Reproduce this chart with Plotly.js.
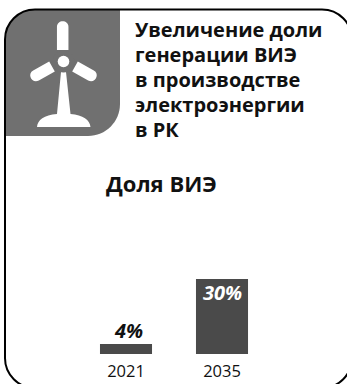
<!DOCTYPE html>
<html>
<head>
<meta charset="utf-8">
<script src="https://cdn.plot.ly/plotly-3.0.1.min.js"></script>
<style>html,body{margin:0;padding:0;background:#fff;overflow:hidden}</style>
</head>
<body>
<div id="chart" style="width:347px;height:384px"></div>
<script>
// Renewable share of generation
const years = ['2021', '2035'];
const shares = [4, 30];
const shareLabels = ['4%', '30%'];
const titleLines = ['Увеличение доли', 'генерации ВИЭ', 'в производстве', 'электроэнергии', 'в РК'];
const subtitle = 'Доля ВИЭ';

const W = 347, H = 384;
const FONT = '"Open Sans", "Noto Sans", sans-serif';
const PANEL = '#707070', BAR = '#4a4a4a', INK = '#111';

// Convert canvas pixels to paper fractions for the decorative shapes
const plot = {l: 78, r: 77, t: 254, b: 30};
const fx = x => (x - plot.l) / (W - plot.l - plot.r);
const fy = y => 1 - (y - plot.t) / (H - plot.t - plot.b);
const k = 0.5523;

// Builds a path string from [command, x1, y1, x2, y2, ...] items given in pixels
function path(items) {
  return items.map(([c, ...p]) =>
    c + p.map((v, i) => (i % 2 ? fy(v) : fx(v)).toFixed(5)).join(',')
  ).join(' ');
}
function roundedRect(x0, y0, x1, y1, rTL, rTR, rBR, rBL) {
  const c = r => r * (1 - k);
  return path([
    ['M', x0 + rTL, y0],
    ['L', x1 - rTR, y0],
    ['C', x1 - c(rTR), y0, x1, y0 + c(rTR), x1, y0 + rTR],
    ['L', x1, y1 - rBR],
    ['C', x1, y1 - c(rBR), x1 - c(rBR), y1, x1 - rBR, y1],
    ['L', x0 + rBL, y1],
    ['C', x0 + c(rBL), y1, x0, y1 - c(rBL), x0, y1 - rBL],
    ['L', x0, y0 + rTL],
    ['C', x0, y0 + c(rTL), x0 + c(rTL), y0, x0 + rTL, y0],
    ['Z']
  ]);
}
// A stadium-shaped turbine blade between two centre points
function blade(x0, y0, x1, y1, w) {
  const len = Math.hypot(x1 - x0, y1 - y0);
  const ux = (x1 - x0) / len, uy = (y1 - y0) / len;
  const nx = -uy * w / 2, ny = ux * w / 2;
  const e = w * 0.66;
  return path([
    ['M', x0 + nx, y0 + ny],
    ['L', x1 + nx, y1 + ny],
    ['C', x1 + nx + ux * e, y1 + ny + uy * e, x1 - nx + ux * e, y1 - ny + uy * e, x1 - nx, y1 - ny],
    ['L', x0 - nx, y0 - ny],
    ['Z']
  ]);
}
const fill = (d, color) => ({type: 'path', xref: 'paper', yref: 'paper', path: d, fillcolor: color, line: {width: 0}, layer: 'below'});
const circle = (cx, cy, r, color) => ({
  type: 'circle', xref: 'paper', yref: 'paper', layer: 'below',
  x0: fx(cx - r), x1: fx(cx + r), y0: fy(cy + r), y1: fy(cy - r),
  fillcolor: color, line: {width: 0}
});

const shapes = [
  // icon panel
  fill(roundedRect(5, 9.5, 120, 136, 30, 0, 32, 0), PANEL),
  // turbine
  fill(blade(62.7, 50, 62.7, 27, 11.5), '#fff'),
  fill(blade(52, 66.5, 36, 75.5, 11.5), '#fff'),
  fill(blade(75, 66.5, 91, 75.5, 11.5), '#fff'),
  fill(path([['M', 61, 72], ['L', 66, 72], ['L', 70.5, 114], ['C', 83, 115, 90, 120, 90.5, 127],
             ['L', 37, 127], ['C', 37.5, 120, 44, 115, 57, 114], ['Z']]), '#fff'),
  circle(63.5, 61.5, 11, PANEL),
  circle(63.5, 61.5, 5.8, '#fff'),
  // outer frame, running past the canvas on the right and at the bottom
  {type: 'path', xref: 'paper', yref: 'paper', layer: 'above',
   path: roundedRect(5, 9.5, 352, 388, 30, 30, 30, 30),
   fillcolor: 'rgba(0,0,0,0)', line: {color: '#000', width: 2}}
];

const trace = {
  type: 'bar',
  x: years,
  y: shares,
  marker: {color: BAR, line: {width: 0}},
  hoverinfo: 'x+y'
};

// Value labels are anchored to the bar tops: above the short bar, inside the tall one.
// On a category axis an annotation's x is the category index.
const valueColors = [INK, '#fff'];
const valueShifts = [14, -13];
const valueNudges = [2, 0];
const valueLabels = years.map((year, i) => ({
  text: shareLabels[i], xref: 'x', yref: 'y', x: i, y: shares[i],
  yshift: valueShifts[i], xshift: valueNudges[i],
  xanchor: 'center', yanchor: 'middle', showarrow: false,
  font: {family: FONT, size: 20, weight: 700, style: 'italic', color: valueColors[i]}
}));

// Heading lines sit on their own so the leading can stay tighter than the default
const TITLE_TOP = 29.5, LEADING = 25;
const headingLines = titleLines.map((line, i) => ({
  text: line, xref: 'paper', yref: 'paper', x: fx(133), y: fy(TITLE_TOP + i * LEADING),
  xanchor: 'left', yanchor: 'middle', showarrow: false,
  font: {family: FONT, size: 20, color: INK, weight: 700}
}));

const layout = {
  width: W, height: H,
  margin: plot,
  paper_bgcolor: '#fff',
  plot_bgcolor: 'rgba(0,0,0,0)',
  showlegend: false,
  bargap: 0.458,
  xaxis: {
    type: 'category', categoryorder: 'array', categoryarray: years, range: [-0.5, 1.5],
    showline: false, showgrid: false, zeroline: false, ticks: '', ticklen: 0,
    ticklabelstandoff: 5,
    tickfont: {family: FONT, size: 16.5, color: INK}
  },
  yaxis: {range: [0, 40], visible: false, showgrid: false, zeroline: false, fixedrange: true},
  shapes: shapes,
  annotations: headingLines.concat(valueLabels, [{
    text: subtitle, xref: 'paper', yref: 'paper', x: fx(104), y: fy(183),
    xanchor: 'left', yanchor: 'middle', showarrow: false,
    font: {family: FONT, size: 22, color: INK, weight: 700}
  }])
};

Plotly.newPlot('chart', [trace], layout, {staticPlot: true, displayModeBar: false});
</script>
</body>
</html>
